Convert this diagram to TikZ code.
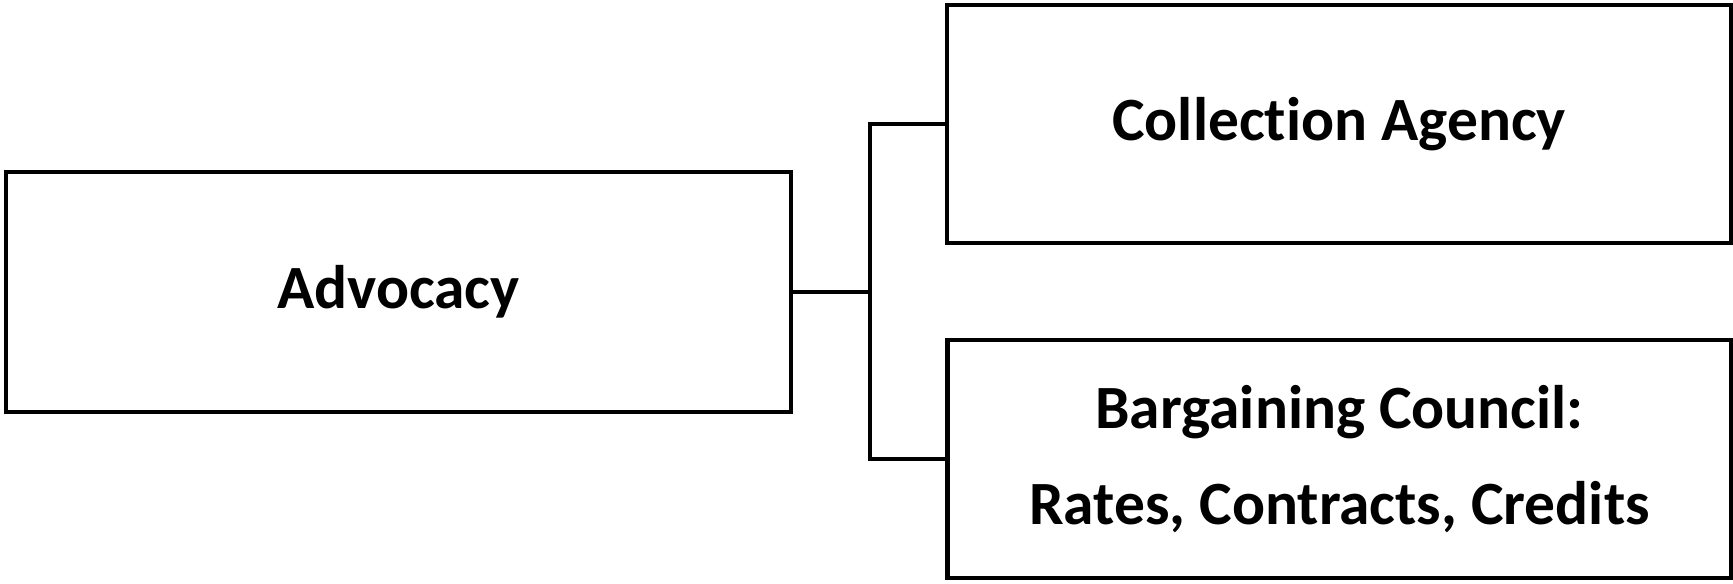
\documentclass[tikz,border=0pt]{standalone}
\usepackage{fontspec}
\setmainfont{Carlito}[Ligatures=NoCommon]
\usetikzlibrary{positioning}

\begin{document}
\begin{tikzpicture}[
		orgbox/.style={draw, line width=1.4pt, minimum width=7.84cm, minimum height=2.38cm, align=center, inner sep=0pt,
			font=\fontsize{17.5}{27.5}\selectfont\bfseries},
		link/.style={line width=1.4pt}
	]
			\pgfmathsetmacro{\TrunkX}{8.70}
			\useasboundingbox (0,0) rectangle (17.33,5.84);
			
			\node[orgbox, minimum width=7.85cm, minimum height=2.40cm] (Advocacy) at (3.985,2.92) {Advocacy};
			\node[orgbox] (Agency) at (13.39,4.60) {Collection Agency};
			\node[orgbox] (Council) at (13.395,1.25) {Bargaining Council:\\Rates, Contracts, Credits};
			
			\coordinate (Split) at (\TrunkX,2.92);
			\draw[link] (Advocacy.east) -- (Split);
			\draw[link] (Agency.west) -| (Split) |- (Council.west);
		\end{tikzpicture}
\end{document}
